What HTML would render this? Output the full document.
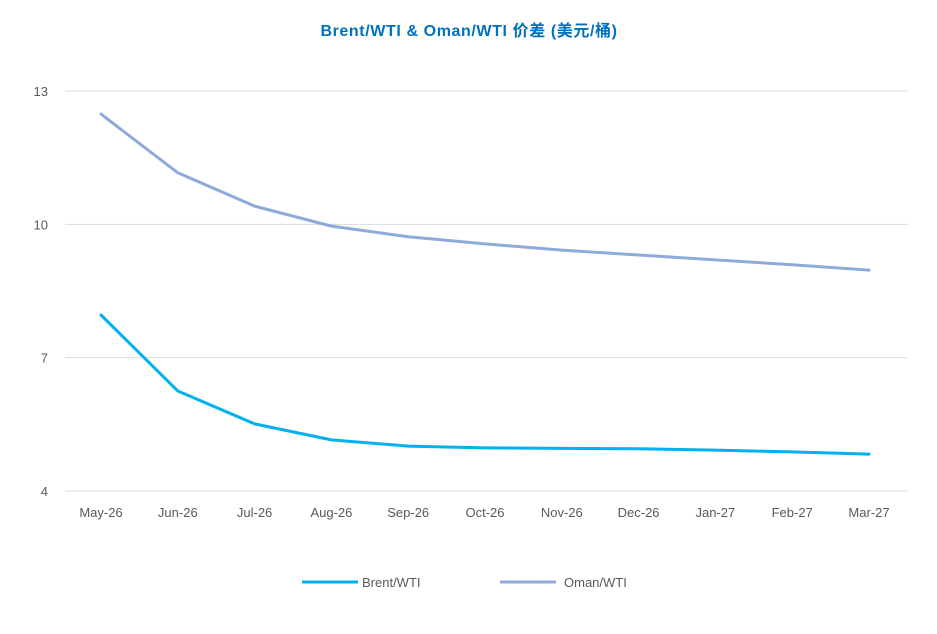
<!DOCTYPE html>
<html><head><meta charset="utf-8"><style>
html,body{margin:0;padding:0;background:#fff;}
svg{display:block;font-family:"Liberation Sans","Noto Sans CJK SC",sans-serif;}
</style></head><body>
<svg id="chart" width="937" height="634">
<text x="469" y="36" text-anchor="middle" font-size="16" letter-spacing="0.6" font-weight="bold" fill="#0070c0">Brent/WTI &amp; Oman/WTI 价差 (美元/桶)</text>
<g id="grid"></g><g id="xlabels"></g><g id="series"></g>
<g>
<g><line x1="302" y1="582" x2="358" y2="582" stroke="#00b0f0" stroke-width="3"/><text x="362" y="587" font-size="13" fill="#595959">Brent/WTI</text></g>
<g><line x1="500" y1="582" x2="556" y2="582" stroke="#8eaadb" stroke-width="3"/><text x="564" y="587" font-size="13" fill="#595959">Oman/WTI</text></g>
</g>
</svg>
<script>
const categories=["May-26","Jun-26","Jul-26","Aug-26","Sep-26","Oct-26","Nov-26","Dec-26","Jan-27","Feb-27","Mar-27"];
const brent=[7.96,6.25,5.51,5.15,5.01,4.97,4.96,4.95,4.92,4.88,4.83];
const oman=[12.48,11.16,10.41,9.96,9.72,9.56,9.42,9.31,9.20,9.09,8.97];
const yTicks=[4,7,10,13];
const NS="http://www.w3.org/2000/svg";
const x0=101,dx=76.8,yMin=4,yMax=13,py0=491,py1=91;
const X=i=>x0+i*dx;
const Y=v=>py0-(v-yMin)/(yMax-yMin)*(py0-py1);
function mk(t,a,p){const e=document.createElementNS(NS,t);for(const k in a)e.setAttribute(k,a[k]);p.appendChild(e);return e;}
const grid=document.getElementById('grid');
yTicks.forEach(v=>{
 const l=mk('line',{x1:65,x2:908,y1:Y(v),y2:Y(v),stroke:'#d9d9d9','stroke-width':1},grid);
 
 
 const t=mk('text',{x:48,y:Y(v)+5,'text-anchor':'end','font-size':13,fill:'#595959'},grid);
 t.textContent=v;
 
 
});
const xl=document.getElementById('xlabels');
categories.forEach((c,i)=>{
 const t=mk('text',{x:X(i),y:517,'text-anchor':'middle','font-size':13,fill:'#595959'},xl);
 t.textContent=c;
 
 
});
const s=document.getElementById('series');
function line(vals,color,name){
 const p=mk('polyline',{points:vals.map((v,i)=>X(i)+','+Y(v)).join(' '),fill:'none',stroke:color,'stroke-width':3,'stroke-linejoin':'round','stroke-linecap':'round'},s);
 
 
}
line(oman,'#8eaadb','oman-wti-line');
line(brent,'#00b0f0','brent-wti-line');
</script>
</body></html>
